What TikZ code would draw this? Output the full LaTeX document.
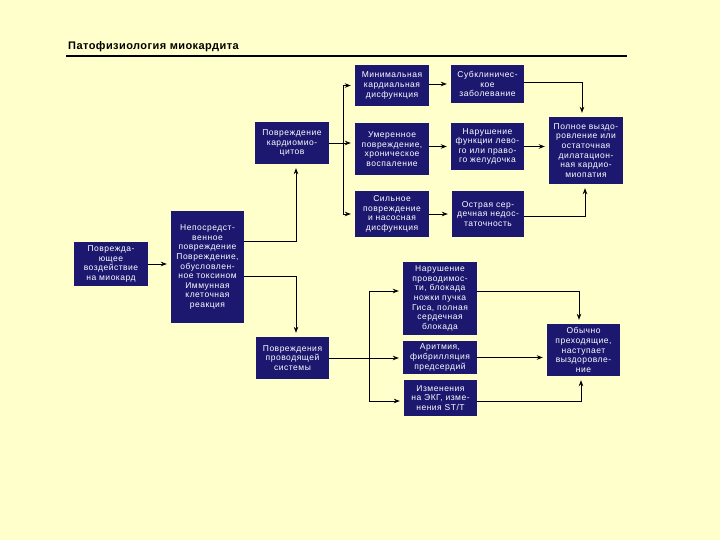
\documentclass[tikz,border=0pt]{standalone}
\usepackage{fontspec}
\setmainfont{Liberation Sans}
\newfontfamily\bxfont[LetterSpace=6]{Liberation Sans}
\newfontfamily\ttlfont[LetterSpace=4]{Liberation Sans}
\usetikzlibrary{arrows.meta}
\definecolor{bgc}{RGB}{255,255,204}
\definecolor{navy}{RGB}{28,24,112}
\begin{document}
\begin{tikzpicture}[x=1pt,y=-1pt,
  bx/.style={fill=navy, text=white, align=center, inner sep=0pt, font=\bxfont\fontsize{8.5}{9.6}\selectfont},
  ln/.style={line width=0.8pt, draw=black},
  arr/.style={ln, -{Stealth[length=6pt,width=4.5pt]}, shorten >=4pt}]
\fill[bgc] (0,0) rectangle (720,540);
\useasboundingbox (0,0) rectangle (720,540);
% title
\node[anchor=base west, inner sep=0pt, font=\ttlfont\bfseries\fontsize{11}{12}\selectfont] (title) at (68,50) {Патофизиология миокардита};
\coordinate (tl1) at (66,56);
\coordinate (tl2) at (627,56);
\draw[line width=1.2pt] (tl1) -- (tl2);
% boxes
\node[bx, minimum width=74pt, minimum height=44pt] (A) at (111,264) {Поврежда-\\ющее\\воздействие\\на миокард};
\node[bx, minimum width=73pt, minimum height=111pt] (B) at (207.5,267) {Непосредст-\\венное\\повреждение\\Повреждение,\\обусловлен-\\ное токсином\\Иммунная\\клеточная\\реакция};
\node[bx, minimum width=74pt, minimum height=42pt] (C) at (292,143) {Повреждение\\кардиомио-\\цитов};
\node[bx, minimum width=74pt, minimum height=41pt] (D) at (392,85.5) {Минимальная\\кардиальная\\дисфункция};
\node[bx, minimum width=74pt, minimum height=52pt] (E) at (392,149) {Умеренное\\повреждение,\\хроническое\\воспаление};
\node[bx, minimum width=74pt, minimum height=46pt] (F) at (392,214) {Сильное\\повреждение\\и насосная\\дисфункция};
\node[bx, minimum width=73pt, minimum height=38pt] (G) at (487.5,84) {Субклиничес-\\кое\\заболевание};
\node[bx, minimum width=73pt, minimum height=47pt] (H) at (487.5,146.5) {Нарушение\\функции лево-\\го или право-\\го желудочка};
\node[bx, minimum width=72pt, minimum height=46pt] (I) at (488,214) {Острая сер-\\дечная недос-\\таточность};
\node[bx, minimum width=74pt, minimum height=67pt] (J) at (586,150.5) {Полное выздо-\\ровление или\\остаточная\\дилатацион-\\ная кардио-\\миопатия};
\node[bx, minimum width=73pt, minimum height=42pt] (K) at (292.5,358) {Повреждения\\проводящей\\системы};
\node[bx, minimum width=74pt, minimum height=73pt] (L) at (440,298.5) {Нарушение\\проводимос-\\ти, блокада\\ножки пучка\\Гиса, полная\\сердечная\\блокада};
\node[bx, minimum width=74pt, minimum height=33pt] (M) at (440,357.5) {Аритмия,\\фибрилляция\\предсердий};
\node[bx, minimum width=73pt, minimum height=36pt] (N) at (440.5,398) {Изменения\\на ЭКГ, изме-\\нения ST/T};
\node[bx, minimum width=73pt, minimum height=52pt] (O) at (583.5,350) {Обычно\\преходящие,\\наступает\\выздоровле-\\ние};
% helper coordinates
\coordinate (vb) at (296,241);
\coordinate (vb2) at (296,276);
\coordinate (vc) at (343,0);
\coordinate (vk) at (369,0);
\coordinate (yl) at (0,291);
\coordinate (yn) at (0,401);
\coordinate (vg) at (582,82);
\coordinate (vi) at (585,216);
\coordinate (vl) at (579,291);
\coordinate (vn) at (581,401);
% connectors
\draw[arr] (A.east) -- (A.east -| B.west);
\draw[arr] (B.east |- vb) -| (vb |- C.south);
\draw[arr] (B.east |- vb2) -| (vb2 |- K.north);
% C fan
\draw[arr] (C.east) -- (C.east -| E.west);
\draw[ln] (vc |- D.west) -- (vc |- F.west);
\draw[arr] (vc |- D.west) -- (D.west);
\draw[arr] (vc |- F.west) -- (F.west);
% second column
\draw[arr] (D.east |- G.west) -- (G.west);
\draw[arr] (E.east |- H.west) -- (H.west);
\draw[arr] (F.east |- I.west) -- (I.west);
% to J
\draw[arr] (G.east |- vg) -| (vg |- J.north);
\draw[arr] (H.east) -- (H.east -| J.west);
\draw[arr] (I.east |- vi) -| (vi |- J.south);
% K fan
\draw[arr] (K.east) -- (K.east -| M.west);
\draw[ln] (vk |- yl) -- (vk |- yn);
\draw[arr] (vk |- yl) -- (yl -| L.west);
\draw[arr] (vk |- yn) -- (yn -| N.west);
% to O
\draw[arr] (L.east |- vl) -| (vl |- O.north);
\draw[arr] (M.east) -- (M.east -| O.west);
\draw[arr] (N.east |- vn) -| (vn |- O.south);
\end{tikzpicture}
\end{document}
